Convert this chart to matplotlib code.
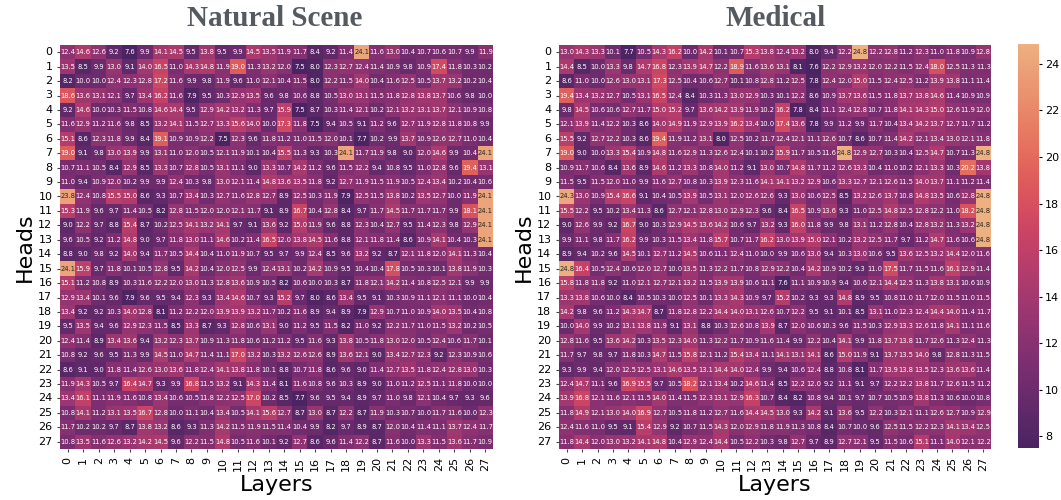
import numpy as np
import matplotlib
matplotlib.use("Agg")
import matplotlib.pyplot as plt
import seaborn as sns

# Attention values, rows = heads, columns = layers
natural = [
    [12.4, 14.6, 12.6, 9.2, 7.6, 9.9, 14.1, 14.5, 9.5, 13.8, 9.5, 9.9, 14.5, 13.5, 11.9, 11.7, 8.4, 9.2, 11.4, 24.1, 11.6, 13.0, 10.4, 10.7, 10.6, 10.7, 9.9, 11.9],
    [13.5, 8.5, 9.9, 13.0, 9.1, 14.0, 16.5, 11.0, 14.3, 14.8, 11.9, 19.0, 11.3, 13.2, 12.0, 7.5, 8.0, 12.3, 12.7, 12.4, 11.4, 10.9, 9.8, 10.9, 17.4, 11.8, 10.3, 10.2],
    [8.2, 10.0, 10.0, 12.4, 12.3, 12.8, 17.2, 11.6, 9.9, 9.8, 11.9, 9.6, 11.0, 12.1, 10.4, 11.5, 8.0, 12.2, 11.5, 14.0, 10.4, 11.6, 12.5, 10.5, 13.7, 13.2, 10.2, 10.4],
    [18.6, 13.6, 13.1, 12.1, 9.7, 13.4, 16.2, 11.6, 7.9, 9.5, 10.3, 12.9, 13.5, 9.6, 9.8, 10.6, 8.8, 10.5, 13.0, 13.1, 11.5, 11.8, 12.8, 13.8, 13.7, 10.6, 9.8, 10.0],
    [9.2, 14.6, 10.0, 10.3, 11.5, 10.8, 14.6, 14.4, 9.5, 12.9, 14.2, 13.2, 11.3, 9.7, 15.9, 7.5, 8.7, 10.3, 11.4, 12.1, 10.2, 12.1, 13.2, 13.1, 13.7, 12.1, 10.9, 10.8],
    [11.6, 12.9, 11.2, 11.6, 9.8, 8.5, 13.2, 14.1, 11.5, 12.7, 13.3, 15.6, 14.0, 10.0, 17.3, 11.8, 7.5, 9.4, 10.5, 9.1, 11.2, 9.6, 12.7, 11.9, 12.8, 11.8, 10.8, 9.9],
    [15.1, 8.6, 12.3, 11.8, 9.9, 8.4, 19.1, 10.9, 10.9, 12.2, 7.5, 12.3, 9.6, 11.8, 11.2, 11.0, 11.5, 12.0, 10.1, 7.7, 10.2, 9.9, 13.7, 10.9, 12.6, 12.7, 11.0, 10.4],
    [19.0, 9.1, 9.8, 13.0, 13.9, 9.9, 13.1, 11.0, 12.0, 10.5, 12.1, 11.9, 10.1, 10.4, 15.5, 11.3, 9.3, 10.3, 24.1, 11.7, 11.9, 9.8, 9.0, 12.0, 14.6, 9.9, 10.4, 24.1],
    [10.7, 11.1, 10.5, 8.4, 12.9, 8.5, 13.3, 10.7, 12.8, 10.5, 13.1, 11.1, 9.0, 13.3, 10.7, 14.2, 11.2, 9.6, 11.5, 12.2, 9.4, 10.8, 9.5, 11.0, 12.8, 9.6, 19.4, 13.1],
    [11.0, 9.4, 10.9, 12.0, 10.2, 9.9, 9.9, 12.4, 10.3, 9.8, 13.0, 12.1, 11.4, 14.8, 13.6, 13.5, 11.8, 9.2, 12.7, 11.9, 11.5, 11.9, 10.5, 12.4, 13.4, 10.2, 10.4, 10.6],
    [23.8, 12.4, 10.8, 15.5, 15.0, 8.6, 9.3, 10.7, 13.4, 10.3, 12.7, 11.6, 12.8, 12.7, 8.9, 12.5, 10.3, 11.9, 7.9, 12.5, 11.5, 13.8, 10.2, 13.5, 12.7, 10.0, 11.9, 24.1],
    [15.3, 11.9, 9.6, 9.7, 11.4, 10.5, 8.2, 12.8, 11.5, 12.0, 12.0, 12.1, 11.7, 9.1, 8.9, 16.7, 10.4, 12.8, 8.4, 9.7, 11.7, 14.5, 11.7, 11.7, 11.7, 9.9, 18.1, 24.1],
    [9.0, 12.2, 9.7, 8.8, 15.4, 8.7, 10.2, 12.5, 14.1, 13.2, 14.1, 9.7, 9.1, 13.6, 9.2, 15.0, 11.9, 9.6, 8.8, 12.3, 10.4, 12.7, 9.5, 11.4, 12.3, 9.8, 12.9, 24.1],
    [9.6, 10.5, 9.2, 11.2, 14.8, 9.0, 9.7, 11.8, 13.0, 11.1, 14.6, 10.2, 11.4, 16.5, 12.0, 13.8, 14.5, 11.6, 8.8, 12.1, 11.8, 11.4, 8.6, 10.9, 14.1, 10.4, 10.3, 24.1],
    [8.8, 9.0, 9.8, 9.2, 14.0, 9.4, 11.7, 10.5, 14.4, 10.4, 11.0, 11.9, 10.7, 9.5, 9.7, 9.9, 12.4, 8.5, 9.6, 13.2, 9.2, 8.7, 12.1, 11.8, 12.0, 14.1, 11.3, 10.4],
    [24.1, 15.9, 9.7, 11.8, 10.1, 10.5, 12.8, 9.5, 14.2, 10.4, 12.0, 12.5, 9.9, 12.4, 13.1, 10.2, 14.2, 10.9, 9.5, 10.4, 10.4, 17.8, 10.5, 10.3, 10.1, 13.8, 11.9, 10.3],
    [15.1, 11.2, 10.8, 8.9, 10.3, 11.6, 12.2, 12.0, 13.0, 11.3, 12.8, 13.6, 10.9, 10.5, 8.2, 10.6, 10.0, 10.3, 8.7, 11.8, 12.1, 14.2, 11.4, 10.8, 12.5, 12.1, 9.9, 9.9],
    [12.9, 13.4, 10.1, 9.6, 7.9, 9.6, 9.5, 9.4, 12.3, 9.3, 13.4, 14.6, 10.7, 9.3, 15.2, 9.7, 8.0, 8.6, 13.4, 9.5, 9.1, 10.3, 10.9, 11.1, 12.1, 11.1, 10.0, 10.4],
    [13.4, 9.2, 9.2, 10.3, 14.0, 12.8, 8.1, 11.2, 12.2, 12.0, 13.9, 13.9, 13.2, 11.7, 10.2, 11.6, 8.9, 9.4, 8.9, 7.9, 12.9, 10.7, 11.0, 10.9, 14.0, 13.5, 10.4, 10.8],
    [9.5, 13.5, 9.4, 9.6, 12.9, 12.3, 11.5, 8.5, 13.3, 8.7, 9.3, 12.8, 10.6, 13.1, 9.0, 11.2, 9.5, 11.5, 8.2, 11.0, 9.2, 12.2, 11.7, 11.0, 11.5, 13.2, 10.2, 10.5],
    [12.4, 11.4, 8.9, 13.4, 13.6, 9.4, 13.2, 12.3, 13.7, 10.9, 11.3, 11.8, 10.6, 11.2, 11.2, 9.5, 11.6, 9.3, 13.8, 10.5, 11.8, 13.0, 12.0, 10.5, 12.4, 10.6, 11.7, 10.1],
    [10.8, 9.2, 9.6, 9.5, 11.3, 9.9, 14.5, 11.0, 14.7, 11.4, 11.1, 17.0, 13.2, 10.3, 13.2, 12.6, 12.6, 8.9, 13.6, 12.1, 9.0, 13.4, 12.7, 12.3, 9.2, 12.3, 10.9, 10.6],
    [8.6, 9.1, 9.0, 11.8, 11.4, 12.6, 13.0, 13.6, 11.8, 12.4, 14.1, 13.8, 11.8, 10.1, 8.8, 10.7, 11.8, 8.6, 9.6, 9.0, 11.4, 12.7, 13.5, 11.8, 12.4, 12.8, 13.0, 10.3],
    [11.9, 14.3, 10.5, 9.7, 16.4, 14.7, 9.3, 9.9, 16.8, 11.5, 13.2, 9.1, 14.3, 11.4, 8.1, 11.6, 10.8, 9.6, 10.3, 8.9, 9.0, 11.0, 11.2, 12.5, 11.1, 11.8, 10.0, 10.0],
    [13.4, 16.1, 11.1, 11.9, 11.6, 10.8, 13.4, 10.6, 10.5, 11.8, 12.2, 12.5, 17.0, 10.2, 8.5, 7.7, 9.6, 9.5, 9.4, 8.9, 9.7, 11.0, 9.8, 12.1, 10.4, 9.7, 9.3, 9.6],
    [10.8, 14.1, 11.2, 13.1, 13.5, 16.7, 12.8, 10.0, 11.1, 10.4, 13.4, 10.5, 14.1, 15.6, 12.7, 8.7, 13.0, 8.7, 12.2, 8.7, 11.9, 10.3, 10.7, 10.0, 11.7, 11.6, 10.0, 12.3],
    [11.7, 10.2, 10.2, 9.7, 8.7, 13.8, 13.2, 8.6, 9.3, 11.3, 14.2, 11.5, 11.9, 11.5, 11.4, 10.4, 9.9, 8.2, 9.7, 8.9, 8.7, 12.0, 10.4, 11.4, 11.1, 13.7, 12.4, 11.7],
    [10.8, 13.5, 11.6, 12.6, 13.2, 14.2, 14.5, 9.6, 12.2, 11.5, 14.8, 10.5, 11.6, 10.1, 9.2, 12.7, 8.6, 9.6, 11.4, 12.2, 8.7, 11.6, 10.0, 13.3, 11.5, 13.6, 11.7, 10.9],
]

medical = [
    [13.0, 14.3, 13.3, 10.1, 7.7, 10.5, 14.3, 16.2, 10.0, 14.2, 10.1, 10.7, 15.3, 13.8, 12.4, 13.2, 8.0, 9.4, 12.2, 24.8, 12.2, 12.8, 11.2, 12.3, 11.0, 11.8, 10.9, 12.8],
    [14.4, 8.5, 10.0, 13.3, 9.8, 14.7, 16.8, 12.3, 13.9, 14.7, 12.2, 18.9, 11.6, 13.6, 13.1, 8.1, 7.6, 12.2, 12.9, 13.2, 12.0, 12.2, 11.5, 12.4, 18.0, 12.5, 11.3, 11.3],
    [8.6, 11.0, 10.0, 12.6, 13.0, 13.1, 17.3, 12.5, 10.4, 10.6, 12.7, 10.1, 10.8, 12.8, 11.2, 12.5, 7.8, 12.4, 12.0, 15.0, 11.5, 12.4, 12.5, 11.2, 13.9, 13.8, 11.1, 11.4],
    [19.4, 13.4, 13.2, 12.7, 10.5, 13.1, 16.5, 12.4, 8.4, 10.3, 11.3, 13.0, 12.9, 10.3, 10.1, 12.2, 8.6, 10.9, 13.7, 13.6, 11.5, 11.8, 13.7, 13.8, 14.6, 11.4, 10.9, 10.9],
    [9.8, 14.5, 10.6, 10.6, 12.7, 11.7, 15.0, 15.2, 9.7, 13.6, 14.2, 13.9, 11.9, 10.2, 16.2, 7.8, 8.4, 11.1, 12.4, 12.8, 10.7, 11.8, 14.1, 14.3, 15.0, 12.6, 11.9, 12.0],
    [12.1, 13.9, 11.4, 12.2, 10.3, 8.6, 14.0, 14.9, 11.9, 12.9, 13.9, 16.2, 13.4, 10.0, 17.4, 13.6, 7.8, 9.9, 11.2, 9.9, 11.7, 10.4, 13.4, 14.2, 13.7, 12.7, 11.7, 11.2],
    [15.5, 9.2, 12.7, 12.2, 10.3, 8.6, 19.4, 11.9, 11.2, 13.1, 8.0, 12.5, 10.2, 11.7, 12.4, 12.1, 11.1, 12.6, 10.7, 8.6, 10.7, 11.4, 14.2, 12.1, 13.4, 13.0, 12.1, 11.8],
    [19.0, 9.0, 10.0, 13.3, 15.4, 10.9, 14.8, 11.6, 12.9, 11.3, 12.6, 12.4, 10.1, 10.2, 15.9, 11.7, 10.5, 11.6, 24.8, 12.9, 12.7, 10.3, 10.4, 12.5, 14.7, 10.7, 11.3, 24.8],
    [10.9, 11.7, 10.6, 8.4, 13.6, 8.9, 14.6, 11.2, 13.3, 10.8, 14.0, 11.2, 9.1, 13.0, 10.7, 14.8, 11.7, 11.2, 12.6, 13.3, 10.4, 11.0, 10.2, 12.1, 13.3, 10.3, 20.2, 13.8],
    [11.5, 9.5, 11.5, 12.0, 11.0, 9.9, 11.6, 12.7, 10.8, 10.3, 13.9, 12.3, 11.6, 14.1, 14.1, 13.2, 12.9, 10.6, 13.3, 12.7, 12.1, 12.6, 11.5, 14.0, 13.7, 11.1, 11.2, 11.4],
    [24.3, 13.0, 10.9, 15.4, 16.6, 9.1, 10.4, 10.5, 13.9, 10.5, 13.1, 12.0, 12.6, 12.6, 9.3, 13.0, 10.6, 12.5, 8.5, 13.2, 12.6, 13.7, 10.8, 14.8, 13.5, 10.6, 12.8, 24.8],
    [15.5, 12.2, 9.5, 10.2, 13.4, 11.3, 8.6, 12.7, 12.1, 12.8, 13.0, 12.9, 12.3, 9.6, 8.4, 16.5, 10.9, 13.6, 9.3, 11.0, 12.5, 14.8, 12.5, 12.8, 12.2, 11.0, 18.2, 24.8],
    [9.0, 12.6, 9.9, 9.2, 16.7, 9.0, 10.3, 12.9, 14.5, 13.6, 14.2, 10.6, 9.7, 13.2, 9.3, 16.0, 11.8, 9.9, 9.8, 13.1, 11.2, 12.8, 10.4, 12.8, 13.2, 11.3, 13.2, 24.8],
    [9.9, 11.1, 9.8, 11.7, 16.2, 9.9, 10.3, 11.5, 13.4, 11.8, 15.7, 10.7, 11.7, 16.2, 13.0, 13.9, 15.0, 12.1, 10.2, 13.2, 12.5, 11.7, 9.7, 11.2, 14.7, 11.6, 10.6, 24.8],
    [8.9, 9.4, 10.2, 9.6, 14.5, 10.1, 12.7, 11.2, 14.5, 10.6, 11.1, 12.4, 11.0, 10.0, 9.9, 10.6, 13.0, 9.4, 10.3, 13.0, 10.6, 9.5, 13.6, 12.5, 13.2, 14.4, 12.0, 11.6],
    [24.8, 16.4, 10.5, 12.4, 10.6, 12.0, 12.7, 10.0, 13.5, 11.3, 12.2, 11.7, 10.8, 12.9, 12.2, 10.4, 14.2, 10.9, 10.2, 9.3, 11.0, 17.5, 11.7, 11.5, 11.6, 16.1, 12.9, 11.4],
    [15.8, 11.8, 11.8, 9.2, 11.0, 12.1, 12.7, 12.1, 13.2, 11.5, 13.9, 13.9, 10.6, 11.1, 7.6, 11.1, 10.9, 10.9, 9.4, 10.6, 12.1, 14.4, 12.5, 11.3, 13.8, 13.1, 10.6, 10.9],
    [13.3, 13.8, 10.6, 10.0, 8.4, 10.5, 10.3, 10.0, 12.5, 10.1, 13.3, 14.3, 10.9, 9.7, 15.2, 10.2, 9.3, 9.3, 14.8, 8.9, 9.5, 10.8, 11.0, 11.7, 12.0, 11.5, 11.0, 11.5],
    [14.2, 9.8, 9.6, 11.2, 14.3, 14.7, 8.7, 11.8, 12.8, 12.2, 14.4, 14.0, 13.1, 12.6, 10.7, 12.2, 9.5, 9.1, 10.1, 8.5, 13.1, 11.0, 12.3, 12.4, 14.4, 14.0, 11.4, 11.7],
    [10.0, 14.0, 9.9, 10.2, 13.1, 13.8, 11.9, 9.1, 13.1, 8.8, 10.3, 12.6, 10.8, 13.9, 8.7, 12.0, 10.6, 10.3, 9.6, 11.5, 10.3, 12.9, 13.3, 12.6, 11.8, 14.1, 11.1, 11.6],
    [12.8, 11.6, 9.5, 13.6, 14.2, 10.3, 13.5, 12.3, 14.0, 11.3, 12.2, 11.7, 10.9, 11.6, 11.4, 9.9, 12.2, 10.4, 14.1, 9.9, 11.8, 13.7, 13.8, 11.7, 12.6, 11.3, 12.4, 11.3],
    [11.7, 9.7, 9.8, 9.7, 11.8, 10.3, 14.7, 11.5, 15.8, 12.1, 11.2, 15.4, 13.4, 11.1, 14.1, 13.1, 14.1, 8.6, 15.0, 11.9, 9.1, 13.7, 13.5, 14.0, 9.8, 12.8, 11.3, 11.5],
    [9.3, 9.9, 9.4, 12.0, 12.5, 12.5, 13.1, 14.6, 13.5, 13.1, 14.4, 14.0, 12.4, 9.9, 9.4, 10.6, 12.4, 8.8, 10.8, 8.1, 11.7, 13.9, 13.8, 13.5, 12.3, 13.6, 13.6, 11.4],
    [12.4, 14.7, 11.1, 9.6, 16.9, 15.5, 9.7, 10.5, 18.2, 12.1, 13.4, 10.2, 14.6, 11.4, 8.5, 12.2, 12.0, 9.2, 11.1, 9.1, 9.7, 12.2, 12.2, 13.8, 11.7, 12.6, 11.5, 11.2],
    [13.9, 16.8, 12.1, 11.6, 12.1, 11.5, 14.0, 11.4, 11.5, 12.3, 13.1, 12.9, 16.3, 10.7, 8.4, 8.2, 10.8, 9.4, 10.1, 9.7, 10.7, 10.5, 10.9, 13.8, 11.3, 10.6, 10.0, 10.8],
    [11.8, 14.9, 12.1, 13.0, 14.0, 16.9, 12.7, 10.5, 11.8, 11.2, 12.7, 11.6, 14.4, 14.5, 13.0, 9.3, 14.2, 9.1, 13.6, 9.5, 12.2, 10.3, 12.1, 11.1, 12.6, 12.7, 10.9, 12.9],
    [12.4, 11.6, 11.0, 9.5, 9.1, 15.4, 12.9, 9.2, 10.7, 11.5, 14.3, 12.0, 12.9, 11.8, 11.9, 11.3, 10.8, 8.4, 10.7, 10.0, 9.6, 12.5, 11.5, 12.2, 12.3, 14.1, 13.4, 12.5],
    [11.8, 14.4, 12.0, 13.0, 13.2, 14.1, 14.8, 10.4, 12.9, 12.4, 14.4, 10.5, 12.2, 10.3, 9.8, 12.7, 9.7, 8.9, 12.7, 12.1, 9.5, 11.5, 10.6, 15.1, 11.1, 14.0, 12.1, 12.2],
]

layers = list(range(28))
heads = list(range(28))
vmin, vmax = 7.5, 24.85

W, H = 1061, 500


def ejes(fig, x0, y0, x1, y1):
    # pixel box to figure fractions
    return fig.add_axes([x0 / W, 1 - y1 / H, (x1 - x0) / W, (y1 - y0) / H])


def dibujar(ax, datos, titulo, x_titulo, cbar_ax=None):
    sns.heatmap(np.array(datos), ax=ax, cmap="flare_r", vmin=vmin, vmax=vmax,
                annot=True, fmt=".1f", annot_kws={"size": 4.9},
                xticklabels=layers, yticklabels=heads,
                cbar=cbar_ax is not None, cbar_ax=cbar_ax)
    ax.tick_params(axis="both", labelsize=8, length=2.5, width=0.8, color="#444444", pad=3)
    ax.tick_params(axis="y", labelrotation=0)
    ax.tick_params(axis="x", labelrotation=90)
    ax.set_xlabel("Layers", fontsize=16, labelpad=3)
    ax.set_ylabel("Heads", fontsize=16, labelpad=2)
    fig.text(x_titulo / W, 1 - 19 / H, titulo, ha="center", va="center",
             family="Liberation Serif", fontweight="bold", fontsize=21, color="#555a60")


fig = plt.figure(figsize=(W / 100, H / 100), dpi=100)

ax1 = ejes(fig, 60, 45, 493, 449)
ax2 = ejes(fig, 559, 45, 991, 449)
cax = ejes(fig, 1018, 44, 1039, 448)

dibujar(ax1, natural, "Natural Scene", 275)
dibujar(ax2, medical, "Medical", 776, cbar_ax=cax)

cax.set_yticks([8, 10, 12, 14, 16, 18, 20, 22, 24])
cax.tick_params(labelsize=8, length=2.5, width=0.8, pad=2)

fig.savefig("out.png", dpi=100)
